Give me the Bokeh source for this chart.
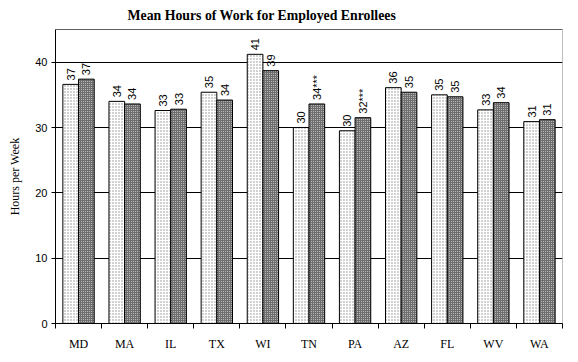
import math
from bokeh.plotting import figure
from bokeh.models import Range1d, FixedTicker, ColumnDataSource, Span
from bokeh.core.properties import value
from bokeh.embed import file_html
from bokeh.resources import INLINE

states = ["MD", "MA", "IL", "TX", "WI", "TN", "PA", "AZ", "FL", "WV", "WA"]
series_a = [36.6, 34.0, 32.6, 35.4, 41.2, 30.0, 29.5, 36.1, 35.0, 32.7, 30.9]
series_b = [37.4, 33.6, 32.8, 34.2, 38.7, 33.6, 31.5, 35.4, 34.7, 33.8, 31.2]
labels_a = ["37", "34", "33", "35", "41", "30", "30", "36", "35", "33", "31"]
labels_b = ["37", "34", "33", "34", "39", "34***", "32***", "35", "35", "34", "31"]
y_ticks = [0, 10, 20, 30, 40]
title_text = "Mean Hours of Work for Employed Enrollees"

n = len(states)
centers = [i + 0.5 for i in range(n)]
bw = 0.34
src_a = ColumnDataSource(dict(x=[c - bw / 2 for c in centers], top=series_a, lab=labels_a))
src_b = ColumnDataSource(dict(x=[c + bw / 2 for c in centers], top=series_b, lab=labels_b))

p = figure(width=578, height=362, x_range=Range1d(0, n), y_range=Range1d(0, 45),
           output_backend="svg", toolbar_location=None,
           min_border_left=55, min_border_right=16, min_border_bottom=39, min_border_top=29)
p.background_fill_color = "white"
p.border_fill_color = "white"
p.outline_line_color = "#808080"
p.outline_line_dash = "1 1"

p.title.text = title_text
p.title.align = "left"
p.title.offset = 72
p.title.vertical_align = "top"
p.title.text_font = "Liberation Serif"
p.title.text_font_style = "bold"
p.title.text_font_size = "13.8px"
p.title.text_color = "black"
p.title.standoff = 10

p.vbar(x="x", top="top", width=bw, source=src_a, fill_color="white",
       hatch_pattern="dot", hatch_color="#8c8c8c", hatch_scale=3, hatch_weight=1,
       line_color="black", line_width=1)
p.vbar(x="x", top="top", width=bw, source=src_b, fill_color="#6e6e6e",
       hatch_pattern="dot", hatch_color="#d0d0d0", hatch_scale=2, hatch_weight=1,
       line_color="black", line_width=1)

for s in (src_a, src_b):
    p.text(x="x", y="top", text="lab", source=s, angle=math.pi / 2,
           text_align="left", text_baseline="middle", y_offset=-4,
           text_font=value("Liberation Sans"), text_font_size="11px", text_color="black")

p.add_layout(Span(location=45, dimension="width", line_color="black", line_width=1))

p.xgrid.visible = False
p.ygrid.ticker = FixedTicker(ticks=y_ticks)
p.ygrid.grid_line_color = "black"
p.ygrid.level = "underlay"

yax = p.yaxis[0]
yax.ticker = FixedTicker(ticks=y_ticks)
yax.axis_label = "Hours per Week"
yax.axis_label_text_font = "Liberation Serif"
yax.axis_label_text_font_style = "normal"
yax.axis_label_text_font_size = "12px"
yax.axis_label_text_color = "black"
yax.axis_label_standoff = 10
yax.major_label_text_font = "Liberation Sans"
yax.major_label_text_font_size = "11px"
yax.major_label_text_color = "black"
yax.major_tick_out = 4
yax.major_tick_in = 0
yax.minor_tick_out = 0
yax.major_label_standoff = 4
yax.axis_line_color = "black"
yax.major_tick_line_color = "black"

xax = p.xaxis[0]
xax.ticker = FixedTicker(ticks=centers, minor_ticks=list(range(n + 1)))
xax.major_label_overrides = {c: s for c, s in zip(centers, states)}
xax.major_tick_out = 0
xax.major_tick_in = 0
xax.minor_tick_out = 5
xax.minor_tick_in = 0
xax.minor_tick_line_color = "black"
xax.major_label_standoff = 8
xax.major_label_text_font = "Liberation Serif"
xax.major_label_text_font_size = "12px"
xax.major_label_text_color = "black"
xax.axis_line_color = "black"

open("out.html", "w").write(file_html(p, INLINE))
